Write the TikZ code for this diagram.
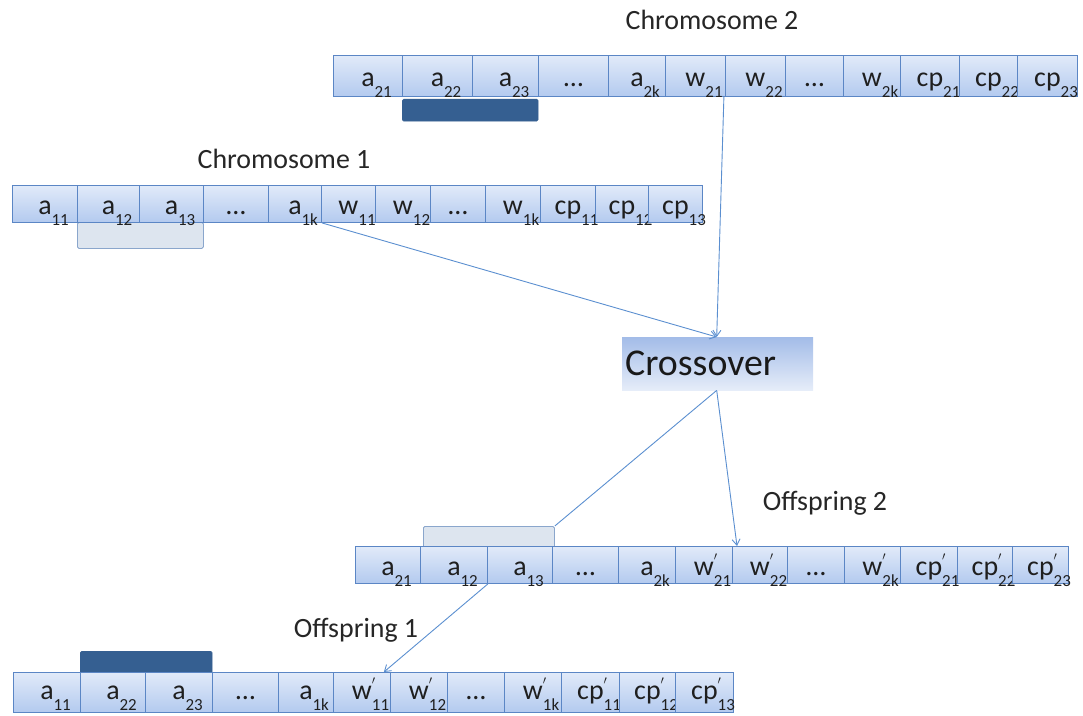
\documentclass[tikz,border=0pt]{standalone}
\usepackage{fontspec}
\setmainfont{Carlito}
\usetikzlibrary{arrows.meta,calc}

\definecolor{celltop}{HTML}{E1EAF9}
\definecolor{cellbot}{HTML}{B3CAEF}
\definecolor{cellline}{HTML}{5B86C5}
\definecolor{linkblue}{HTML}{5B8FD0}
\definecolor{darkbar}{HTML}{355F91}
\definecolor{lightbar}{HTML}{DDE5EF}
\definecolor{lightbarline}{HTML}{8AA6CC}
\definecolor{xotop}{HTML}{A3BCE8}
\definecolor{xobot}{HTML}{E6EDF9}

% gene symbol: base letter centred, index hanging below right
\newcommand{\gbase}{\fontsize{28}{28}\selectfont}
\newcommand{\gsub}{\fontsize{17}{17}\selectfont}
\newcommand{\gn}[2]{{\gbase #1}\makebox[0pt][l]{\raisebox{-11bp}{\gsub #2}}}
\newcommand{\gnp}[2]{{\gbase #1}\makebox[0pt][l]{\raisebox{9bp}{\gsub$'$}}\makebox[0pt][l]{\raisebox{-11bp}{\gsub #2}}}
\newcommand{\gdots}{{\gbase …}}

\tikzset{
  genecell/.style={draw=cellline, line width=0.9bp, top color=celltop, bottom color=cellbot,
    inner sep=0pt, anchor=north west, text height=24bp, text depth=3bp, text=black!88},
  selbar dark/.style={fill=darkbar, draw=darkbar, rounded corners=1.5bp},
  selbar light/.style={fill=lightbar, draw=lightbarline, line width=0.8bp, rounded corners=1.5bp},
  rowlabel/.style={font=\fontsize{28}{28}\selectfont, anchor=base, text=black!85},
  link/.style={draw=linkblue, line width=0.9bp},
  linkarrow/.style={link, -{Straight Barb[length=6bp,width=8bp]}},
}

% one chromosome row: name prefix, top y, bottom y, list of left/right/text
\newcommand{\generow}[4]{%
  \foreach \xa/\xb/\t [count=\i] in {#4} {
    \node[genecell, minimum width={(\xb-\xa)*1bp}, minimum height={(#3-#2)*1bp}]
      (#1-\i) at (\xa,#2) {\t};
  }%
}

\begin{document}
\begin{tikzpicture}[x=1bp,y=-1bp]
\useasboundingbox (0,0) rectangle (1083,716);

% selection bars drawn behind the rows
\node[selbar dark, minimum width=136bp, minimum height=22bp, anchor=north west, inner sep=0pt] (bar2) at (402,99) {};
\node[selbar light, minimum width=126bp, minimum height=26bp, anchor=north west, inner sep=0pt] (bar1) at (77,222) {};
\node[selbar light, minimum width=131bp, minimum height=22bp, anchor=north west, inner sep=0pt] (bar3) at (423,526) {};
\node[selbar dark, minimum width=132bp, minimum height=22bp, anchor=north west, inner sep=0pt] (bar4) at (80,651) {};

% chromosome 2
\generow{c2}{55}{96}{333/402/{\gn{a}{21}}, 402/472/{\gn{a}{22}}, 472/538/{\gn{a}{23}}, 538/608/{\gdots},
  608/665/{\gn{a}{2k}}, 665/725/{\gn{w}{21}}, 725/785/{\gn{w}{22}}, 785/843/{\gdots},
  843/900/{\gn{w}{2k}}, 900/959/{\gn{cp}{21}}, 959/1017/{\gn{cp}{22}}, 1017/1077/{\gn{cp}{23}}}

% chromosome 1
\generow{c1}{185}{222}{12/77/{\gn{a}{11}}, 77/139/{\gn{a}{12}}, 139/203/{\gn{a}{13}}, 203/268/{\gdots},
  268/321/{\gn{a}{1k}}, 321/375/{\gn{w}{11}}, 375/430/{\gn{w}{12}}, 430/485/{\gdots},
  485/540/{\gn{w}{1k}}, 540/595/{\gn{cp}{11}}, 595/648/{\gn{cp}{12}}, 648/702/{\gn{cp}{13}}}

% offspring 2
\generow{o2}{546}{583}{355/420/{\gn{a}{21}}, 420/487/{\gn{a}{12}}, 487/552/{\gn{a}{13}}, 552/618/{\gdots},
  618/675/{\gn{a}{2k}}, 675/732/{\gnp{w}{21}}, 732/787/{\gnp{w}{22}}, 787/844/{\gdots},
  844/900/{\gnp{w}{2k}}, 900/957/{\gnp{cp}{21}}, 957/1012/{\gnp{cp}{22}}, 1012/1068/{\gnp{cp}{23}}}

% offspring 1 (text set higher so the indices stay clear of the lower edge)
\begin{scope}[genecell/.append style={text height=24bp, text depth=9bp}]
\generow{o1}{672}{712}{13/80/{\gn{a}{11}}, 80/145/{\gn{a}{22}}, 145/212/{\gn{a}{23}}, 212/278/{\gdots},
  278/333/{\gn{a}{1k}}, 333/390/{\gnp{w}{11}}, 390/447/{\gnp{w}{12}}, 447/504/{\gdots},
  504/561/{\gnp{w}{1k}}, 561/619/{\gnp{cp}{11}}, 619/675/{\gnp{cp}{12}}, 675/733/{\gnp{cp}{13}}}
\end{scope}

% row captions
\node[rowlabel] (lab2) at (712,30) {Chromosome 2};
\node[rowlabel] (lab1) at (284,169) {Chromosome 1};
\node[rowlabel] (lab3) at (825,510) {Offspring 2};
\node[rowlabel] (lab4) at (356,637) {Offspring 1};

% crossover operator
\node[top color=xotop, bottom color=xobot, minimum width=191bp, minimum height=53bp,
  inner sep=0pt, font=\fontsize{38}{38}\selectfont, text=black!90, anchor=north west,
  text width=185bp, align=left] (xo) at (622,337) {Crossover};

% connectors
\coordinate (xin) at ($(xo.north)+(-1,0)$);
\coordinate (xout) at ($(xo.south)+(-1,0)$);
\draw[linkarrow] ($(c2-6.south east)+(-2,0)$) -- (xin);
\draw[linkarrow] (c1-5.south east) -- (xin);
\draw[linkarrow] (xout) -- ($(o2-7.north west)+(5,0)$);
\draw[link] (xout) -- (bar3.north east);
\draw[linkarrow] (o2-2.south east) -- ($(o1-6.north east)+(-7,0)$);
\end{tikzpicture}
\end{document}
